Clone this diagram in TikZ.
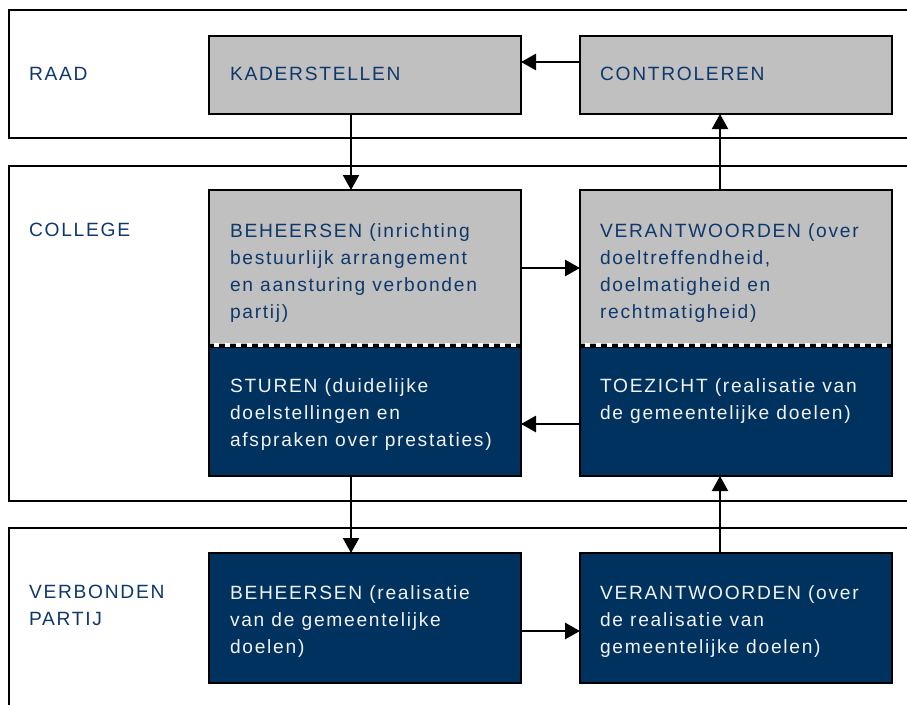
\documentclass[tikz,border=0pt]{standalone}
\usepackage{fontspec}
\setmainfont{Liberation Sans}[LetterSpace=9]
\usetikzlibrary{arrows.meta}
\definecolor{boxgray}{RGB}{192,192,192}
\definecolor{navy}{RGB}{0,50,96}
\definecolor{lblblue}{RGB}{14,56,108}
\definecolor{offwhite}{RGB}{242,242,242}
\tikzset{
  frame/.style={draw=black, line width=2pt},
  box/.style={draw=black, line width=1.6pt, minimum width=312pt, inner sep=0pt, outer sep=0pt},
  graybox/.style={box, fill=boxgray},
  navybox/.style={box, fill=navy},
  txt/.style={font=\fontsize{19.2}{27}\selectfont, align=left, inner sep=0pt, outer sep=0pt, anchor=north west},
  bluetxt/.style={txt, text=lblblue},
  whitetxt/.style={txt, text=offwhite},
  arr/.style={line width=2pt, -{Triangle[length=15pt,width=16pt]}},
  harr/.style={line width=2.8pt, -{Triangle[length=15pt,width=16pt]}},
}
\newcommand{\fl}{\rule{0pt}{16pt}}
\begin{document}
\begin{tikzpicture}[x=1pt,y=-1pt]
\useasboundingbox (0,0) rectangle (907,704);
\clip (0,0) rectangle (907,704);
% layer frames
\draw[frame] (930,10) -- (9,10) -- (9,138) -- (930,138);
\draw[frame] (930,166) -- (9,166) -- (9,501) -- (930,501);
\draw[frame] (930,528) -- (9,528) -- (9,720);
% layer labels
\node[bluetxt] (lraad) at (29,64) {\fl RAAD};
\node[bluetxt] (lcollege) at (29,220) {\fl COLLEGE};
\node[bluetxt] (lverb) at (29,582) {\fl VERBONDEN\\PARTIJ};
% boxes
\node[graybox, minimum height=78pt, anchor=north west] (kader) at (209,36) {};
\node[graybox, minimum height=78pt, anchor=north west] (contr) at (580,36) {};
\node[graybox, minimum height=155pt, anchor=north west] (beh) at (209,190) {};
\node[navybox, minimum height=131pt, anchor=north west] (stur) at (209,345) {};
\node[graybox, minimum height=155pt, anchor=north west] (verant) at (580,190) {};
\node[navybox, minimum height=131pt, anchor=north west] (toez) at (580,345) {};
\node[navybox, minimum height=130pt, anchor=north west] (vbeh) at (209,553) {};
\node[navybox, minimum height=130pt, anchor=north west] (vver) at (580,553) {};
% separators
\foreach \x in {209,580}{
  \draw[line width=4pt] (\x,346) -- ++(312,0);
  \draw[white, line width=4pt, dash pattern=on 5pt off 6pt, dash phase=-3pt] (\x+2,345) -- ++(310,0);
}
% texts
\node[bluetxt] (tkader) at (230,64) {\fl KADERSTELLEN};
\node[bluetxt] (tcontr) at (600,64) {\fl CONTROLEREN};
\node[bluetxt] (tbeh) at (230,221) {\fl BEHEERSEN (inrichting\\bestuurlijk arrangement\\en aansturing verbonden\\partij)};
\node[bluetxt] (tverant) at (600,221) {\fl VERANTWOORDEN (over\\doeltreffendheid,\\doelmatigheid en\\rechtmatigheid)};
\node[whitetxt] (tstur) at (230,376) {\fl STUREN (duidelijke\\doelstellingen en\\afspraken over prestaties)};
\node[whitetxt] (ttoez) at (600,376) {\fl TOEZICHT (realisatie van\\de gemeentelijke doelen)};
\node[whitetxt] (tvbeh) at (230,583) {\fl BEHEERSEN (realisatie\\van de gemeentelijke\\doelen)};
\node[whitetxt] (tvver) at (600,583) {\fl VERANTWOORDEN (over\\de realisatie van\\gemeentelijke doelen)};
% connector guides
\coordinate (cl) at (351,0);
\coordinate (cr) at (720,0);
\coordinate (r1) at (0,62);
\coordinate (r2) at (0,268);
\coordinate (r3) at (0,424);
\coordinate (r4) at (0,631);
% connectors
\draw[harr] (contr.west |- r1) -- (kader.east |- r1);
\draw[arr] (kader.south -| cl) -- (beh.north -| cl);
\draw[arr] (verant.north -| cr) -- (contr.south -| cr);
\draw[harr] (beh.east |- r2) -- (verant.west |- r2);
\draw[harr] (toez.west |- r3) -- (stur.east |- r3);
\draw[arr] (stur.south -| cl) -- (vbeh.north -| cl);
\draw[harr] (vbeh.east |- r4) -- (vver.west |- r4);
\draw[arr] (vver.north -| cr) -- (toez.south -| cr);
\end{tikzpicture}
\end{document}
